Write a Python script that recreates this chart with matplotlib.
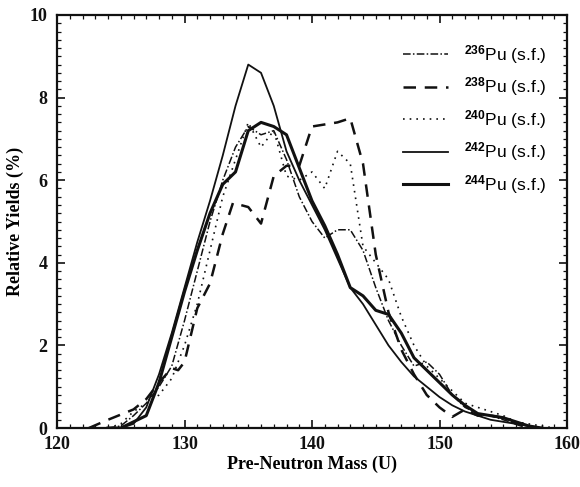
import matplotlib
matplotlib.use("Agg")
import matplotlib.pyplot as plt
from matplotlib.ticker import MultipleLocator

# Pre-neutron heavy-fragment mass yields, spontaneous fission of Pu isotopes
mass_236 = [124, 125, 126, 127, 128, 129, 130, 131, 132, 133, 134, 135, 136, 137, 138,
            139, 140, 141, 142, 143, 144, 145, 146, 147, 148, 149, 150, 151, 152, 153,
            154, 155, 156, 157, 158]
yield_236 = [0.0, 0.05, 0.3, 0.6, 1.0, 1.5, 2.6, 3.8, 5.0, 6.0, 6.8, 7.3, 7.1, 7.2, 6.5,
             5.6, 5.0, 4.6, 4.8, 4.8, 4.3, 3.4, 2.6, 2.0, 1.5, 1.6, 1.3, 0.8, 0.5, 0.35,
             0.3, 0.2, 0.1, 0.05, 0.0]

mass_238 = [122.5, 124, 126, 127, 128, 129, 129.5, 130, 131, 132, 133, 133.8, 135, 136,
            137, 138, 139, 140, 141, 142, 143, 144, 145, 146, 147, 148, 149, 150, 151,
            152, 153, 154, 155, 156, 157]
yield_238 = [0.0, 0.2, 0.45, 0.7, 1.1, 1.45, 1.4, 1.6, 2.9, 3.5, 4.7, 5.45, 5.35, 4.95,
             6.1, 6.35, 6.35, 7.3, 7.35, 7.4, 7.5, 6.4, 4.2, 2.8, 1.9, 1.3, 0.8, 0.5, 0.27,
             0.45, 0.3, 0.3, 0.25, 0.1, 0.0]

mass_240 = [124, 125, 126, 127, 128, 129, 130, 131, 132, 133, 134, 135, 136, 137, 138,
            139, 140, 141, 142, 143, 144, 145, 146, 147, 148, 149, 150, 151, 152, 153,
            154, 155, 156, 157, 158, 159]
yield_240 = [0.0, 0.1, 0.4, 0.6, 0.8, 1.2, 2.0, 3.0, 4.3, 5.6, 6.5, 7.4, 6.8, 7.2, 6.1,
             6.0, 6.2, 5.8, 6.7, 6.4, 4.4, 4.0, 3.6, 2.7, 2.0, 1.5, 1.2, 0.9, 0.6, 0.5,
             0.4, 0.3, 0.15, 0.1, 0.05, 0.0]

mass_242 = [125, 126, 127, 128, 129, 130, 131, 132, 133, 134, 135, 136, 137, 138, 139,
            140, 141, 142, 143, 144, 145, 146, 147, 148, 149, 150, 151, 152, 153, 154,
            155, 156, 157, 158]
yield_242 = [0.0, 0.1, 0.5, 1.3, 2.3, 3.4, 4.5, 5.5, 6.6, 7.8, 8.8, 8.6, 7.8, 6.7, 6.0,
             5.4, 4.8, 4.1, 3.4, 3.0, 2.5, 2.0, 1.6, 1.25, 1.0, 0.75, 0.55, 0.4, 0.3, 0.2,
             0.15, 0.1, 0.05, 0.0]

mass_244 = [124, 125, 126, 127, 128, 129, 130, 131, 132, 133, 134, 135, 136, 137, 138,
            139, 140, 141, 142, 143, 144, 145, 146, 147, 148, 149, 150, 151, 152, 153,
            154, 155, 156, 157, 158]
yield_244 = [0.0, 0.0, 0.15, 0.3, 1.1, 2.2, 3.3, 4.3, 5.2, 5.9, 6.2, 7.2, 7.4, 7.3, 7.1,
             6.3, 5.5, 4.9, 4.2, 3.4, 3.2, 2.85, 2.75, 2.3, 1.7, 1.4, 1.1, 0.8, 0.55, 0.35,
             0.3, 0.25, 0.15, 0.05, 0.0]

labels = [r"$^{236}$Pu (s.f.)", r"$^{238}$Pu (s.f.)", r"$^{240}$Pu (s.f.)",
          r"$^{242}$Pu (s.f.)", r"$^{244}$Pu (s.f.)"]

x_ticks = [120, 130, 140, 150, 160]
y_ticks = [0, 2, 4, 6, 8, 10]

plt.rcParams["mathtext.fontset"] = "custom"
plt.rcParams["mathtext.rm"] = "Liberation Sans:bold"
plt.rcParams["mathtext.it"] = "Liberation Sans:bold"
plt.rcParams["mathtext.bf"] = "Liberation Sans:bold"

fig = plt.figure(figsize=(5.8, 4.87), dpi=100)
ax = fig.add_axes([0.0983, 0.1211, 0.8793, 0.8481])

ink = "#111111"
ax.plot(mass_236, yield_236, color=ink, lw=1.1, dashes=(5, 1.5, 1, 1.5), label=labels[0])
ax.plot(mass_238, yield_238, color=ink, lw=1.8, dashes=(5, 3.5), label=labels[1])
ax.plot(mass_240, yield_240, color=ink, lw=1.2, dashes=(1, 3), label=labels[2])
ax.plot(mass_242, yield_242, color=ink, lw=1.3, label=labels[3])
ax.plot(mass_244, yield_244, color=ink, lw=2.2, label=labels[4])

ax.set_xlim(120, 160)
ax.set_ylim(0, 10)
ax.set_xticks(x_ticks)
ax.set_yticks(y_ticks)
ax.xaxis.set_minor_locator(MultipleLocator(1))
ax.yaxis.set_minor_locator(MultipleLocator(0.2))
ax.tick_params(which="both", direction="in", top=True, right=True, colors=ink)
ax.tick_params(which="major", length=6, width=1.2)
ax.tick_params(which="minor", length=3, width=0.9)
for lab in ax.get_xticklabels() + ax.get_yticklabels():
    lab.set_fontfamily("Liberation Serif")
    lab.set_fontweight("bold")
    lab.set_fontsize(13)
ax.tick_params(axis="x", pad=6)
ax.tick_params(axis="y", pad=7)
for sp in ax.spines.values():
    sp.set_linewidth(1.6)
    sp.set_color(ink)

ax.set_xlabel("Pre-Neutron Mass (U)", fontfamily="Liberation Serif",
              fontweight="bold", fontsize=13, labelpad=2)
ax.set_ylabel("Relative Yields (%)", fontfamily="Liberation Serif",
              fontweight="bold", fontsize=13, labelpad=4)

leg = ax.legend(loc="upper right", bbox_to_anchor=(0.99, 0.97), frameon=False,
                handlelength=2.6, handletextpad=0.9, labelspacing=0.55,
                prop={"family": "Liberation Sans", "size": 12.5})

fig.savefig("out.png", dpi=100)
